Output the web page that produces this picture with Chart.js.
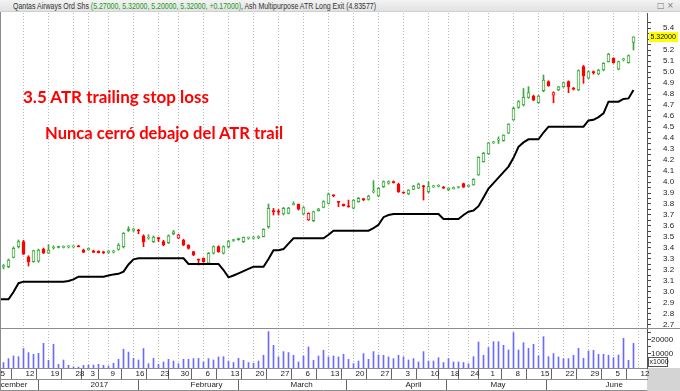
<!DOCTYPE html>
<html>
<head>
<meta charset="utf-8">
<script src="https://cdn.jsdelivr.net/npm/chart.js@4.4.0/dist/chart.umd.min.js"></script>
<style>
body{margin:0;width:680px;height:391px;overflow:hidden;background:#fff;position:relative;font-family:'Liberation Sans',Arial,sans-serif}
#hdr{position:absolute;left:0;top:0;width:680px;height:12px;background:linear-gradient(#f3f3f3,#e2e2e2);border-bottom:1px solid #cfcfcf;box-sizing:border-box;font-size:8.5px;line-height:12px;color:#333;white-space:nowrap}
#hdr .t{position:absolute;left:13px;top:0;transform-origin:0 50%}
#hdr .g{color:#1f9a1f}
#hdr .btn{position:absolute;left:657px;top:0;color:#777;font-family:'DejaVu Sans';font-size:8px}
#corner{position:absolute;left:647px;top:368px;width:33px;height:23px;background:#d4d4d4}
canvas{position:absolute;left:0;top:0}
.note{position:absolute;color:#f00;font-family:Lato,'Open Sans',sans-serif;font-weight:bold;white-space:nowrap;transform-origin:0 0;line-height:18px}
</style>
</head>
<body>
<div id="corner"></div>
<canvas id="chart_one" width="680" height="391"></canvas>
<div id="hdr"><span class="t" id="hdrText"></span><span class="btn">&#9633; &#215;</span></div>
<div class="note" id="note1" style="left:23px;top:88px;font-size:17px">3.5 ATR trailing stop loss</div>
<div class="note" id="note2" style="left:45px;top:124px;font-size:17px">Nunca cerró debajo del ATR trail</div>
<script>

var dates = [
    '2016-12-01','2016-12-02',
    '2016-12-05','2016-12-06','2016-12-07','2016-12-08','2016-12-09',
    '2016-12-12','2016-12-13','2016-12-14','2016-12-15','2016-12-16',
    '2016-12-19','2016-12-20','2016-12-21','2016-12-22','2016-12-23',
    '2016-12-28','2016-12-29','2016-12-30',
    '2017-01-03','2017-01-04','2017-01-05','2017-01-06',
    '2017-01-09','2017-01-10','2017-01-11','2017-01-12','2017-01-13',
    '2017-01-16','2017-01-17','2017-01-18','2017-01-19','2017-01-20',
    '2017-01-23','2017-01-24','2017-01-25','2017-01-27',
    '2017-01-30','2017-01-31','2017-02-01','2017-02-02','2017-02-03',
    '2017-02-06','2017-02-07','2017-02-08','2017-02-09','2017-02-10',
    '2017-02-13','2017-02-14','2017-02-15','2017-02-16','2017-02-17',
    '2017-02-20','2017-02-21','2017-02-22','2017-02-23','2017-02-24',
    '2017-02-27','2017-02-28','2017-03-01','2017-03-02','2017-03-03',
    '2017-03-06','2017-03-07','2017-03-08','2017-03-09','2017-03-10',
    '2017-03-13','2017-03-14','2017-03-15','2017-03-16','2017-03-17',
    '2017-03-20','2017-03-21','2017-03-22','2017-03-23','2017-03-24',
    '2017-03-27','2017-03-28','2017-03-29','2017-03-30','2017-03-31',
    '2017-04-03','2017-04-04','2017-04-05','2017-04-06','2017-04-07',
    '2017-04-10','2017-04-11','2017-04-12','2017-04-13',
    '2017-04-18','2017-04-19','2017-04-20','2017-04-21',
    '2017-04-24','2017-04-26','2017-04-27','2017-04-28',
    '2017-05-01','2017-05-02','2017-05-03','2017-05-04','2017-05-05',
    '2017-05-08','2017-05-09','2017-05-10','2017-05-11','2017-05-12',
    '2017-05-15','2017-05-16','2017-05-17','2017-05-18','2017-05-19',
    '2017-05-22','2017-05-23','2017-05-24','2017-05-25','2017-05-26',
    '2017-05-29','2017-05-30','2017-05-31','2017-06-01','2017-06-02',
    '2017-06-05','2017-06-06','2017-06-07','2017-06-08','2017-06-09',
    '2017-06-12'
];

var open = [3.20, 3.22, 3.21,
    3.23, 3.23, 3.315, 3.412, 3.458, 3.32, 3.276, 3.28, 3.39, 3.352,
    3.40, 3.41, 3.405, 3.41, 3.41, 3.42, 3.382, 3.382, 3.375, 3.37,
    3.365, 3.36, 3.362, 3.388, 3.412, 3.57, 3.56, 3.565, 3.51, 3.49,
    3.458, 3.49, 3.458, 3.448, 3.53, 3.49, 3.473, 3.427, 3.367, 3.30,
    3.306, 3.261, 3.352, 3.412, 3.352, 3.412, 3.468, 3.485, 3.458, 3.49,
    3.49, 3.495, 3.503, 3.594, 3.735, 3.735, 3.71, 3.715, 3.795, 3.797,
    3.709, 3.655, 3.648, 3.74, 3.77, 3.806, 3.88, 3.82, 3.797, 3.78,
    3.761, 3.821, 3.845, 3.842, 3.91, 3.873, 3.958, 3.99, 4.00, 3.982,
    3.905, 3.891, 3.933, 3.943, 3.96, 3.912, 3.955, 3.96, 3.95, 3.93,
    3.94, 3.95, 3.985, 3.96, 3.973, 4.064, 4.185, 4.255, 4.355, 4.38,
    4.376, 4.443, 4.564, 4.679, 4.70, 4.77, 4.782, 4.721, 4.83, 4.912,
    4.79, 4.836, 4.866, 4.912, 4.85, 4.836, 5.05, 4.943, 5.00, 4.982,
    5.018, 5.094, 5.125, 5.025, 5.11, 5.085, 5.27];

var high = [3.24, 3.25, 3.26,
    3.25, 3.30, 3.41, 3.473, 3.47, 3.33, 3.38, 3.39, 3.40, 3.43,
    3.42, 3.415, 3.42, 3.42, 3.42, 3.425, 3.39, 3.40, 3.38, 3.375,
    3.37, 3.38, 3.38, 3.44, 3.54, 3.594, 3.58, 3.57, 3.52, 3.52,
    3.51, 3.495, 3.47, 3.52, 3.56, 3.525, 3.48, 3.43, 3.37, 3.30,
    3.31, 3.36, 3.42, 3.42, 3.42, 3.47, 3.48, 3.49, 3.50, 3.50,
    3.505, 3.51, 3.575, 3.80, 3.76, 3.75, 3.77, 3.77, 3.82, 3.80,
    3.775, 3.72, 3.735, 3.76, 3.83, 3.90, 3.885, 3.825, 3.80, 3.836,
    3.84, 3.86, 3.85, 3.88, 4.012, 3.95, 4.01, 4.01, 4.01, 3.99,
    3.91, 3.93, 3.97, 3.99, 3.97, 4.003, 3.97, 3.975, 3.96, 3.95,
    3.955, 3.96, 3.99, 3.975, 4.03, 4.23, 4.27, 4.36, 4.37, 4.41,
    4.43, 4.53, 4.68, 4.74, 4.85, 4.867, 4.79, 4.79, 4.973, 4.92,
    4.82, 4.87, 4.91, 4.92, 4.86, 5.02, 5.06, 5.01, 5.01, 5.025,
    5.085, 5.17, 5.13, 5.10, 5.125, 5.155, 5.32];

var low = [3.18, 3.19, 3.19,
    3.21, 3.22, 3.31, 3.40, 3.34, 3.236, 3.27, 3.27, 3.35, 3.35,
    3.39, 3.40, 3.40, 3.40, 3.40, 3.41, 3.36, 3.38, 3.36, 3.355,
    3.35, 3.35, 3.355, 3.38, 3.40, 3.55, 3.55, 3.53, 3.412, 3.48,
    3.45, 3.458, 3.42, 3.44, 3.52, 3.485, 3.42, 3.39, 3.33, 3.245,
    3.27, 3.255, 3.345, 3.36, 3.345, 3.40, 3.46, 3.47, 3.45, 3.48,
    3.48, 3.485, 3.50, 3.58, 3.70, 3.70, 3.70, 3.71, 3.79, 3.745,
    3.70, 3.65, 3.64, 3.735, 3.765, 3.80, 3.865, 3.776, 3.78, 3.77,
    3.755, 3.815, 3.83, 3.835, 3.90, 3.865, 3.95, 3.98, 3.99, 3.905,
    3.895, 3.885, 3.93, 3.94, 3.836, 3.90, 3.95, 3.955, 3.94, 3.92,
    3.935, 3.945, 3.95, 3.955, 3.97, 4.06, 4.18, 4.25, 4.35, 4.35,
    4.37, 4.44, 4.56, 4.67, 4.69, 4.76, 4.74, 4.715, 4.82, 4.87,
    4.72, 4.83, 4.86, 4.812, 4.836, 4.83, 4.897, 4.94, 4.98, 4.975,
    5.01, 5.09, 5.08, 5.02, 5.10, 5.08, 5.20];

var close = [3.22, 3.21, 3.23,
    3.24, 3.29, 3.397, 3.458, 3.345, 3.276, 3.376, 3.382, 3.352, 3.382,
    3.405, 3.405, 3.41, 3.412, 3.415, 3.41, 3.36, 3.397, 3.36, 3.358,
    3.356, 3.365, 3.367, 3.427, 3.533, 3.56, 3.565, 3.555, 3.458, 3.497,
    3.50, 3.485, 3.427, 3.51, 3.548, 3.52, 3.427, 3.397, 3.337, 3.29,
    3.276, 3.352, 3.412, 3.367, 3.412, 3.458, 3.473, 3.475, 3.497, 3.498,
    3.50, 3.503, 3.57, 3.761, 3.73, 3.725, 3.761, 3.762, 3.80, 3.752,
    3.767, 3.715, 3.73, 3.755, 3.821, 3.891, 3.875, 3.815, 3.782, 3.775,
    3.836, 3.852, 3.84, 3.873, 3.915, 3.943, 4.003, 4.003, 3.995, 3.912,
    3.90, 3.927, 3.964, 3.982, 3.955, 3.958, 3.96, 3.965, 3.945, 3.945,
    3.947, 3.955, 3.953, 3.97, 4.024, 4.224, 4.26, 4.357, 4.36, 4.382,
    4.427, 4.527, 4.67, 4.73, 4.77, 4.812, 4.745, 4.782, 4.927, 4.873,
    4.812, 4.866, 4.903, 4.866, 4.845, 5.012, 4.964, 5.003, 4.995, 5.018,
    5.079, 5.164, 5.085, 5.094, 5.115, 5.15, 5.32];

// Ash Multipurpose ATR Long Exit
var atr = [2.93, 2.934, 2.934,
    2.934, 2.934, 3.00, 3.08, 3.094, 3.094, 3.094, 3.094, 3.094, 3.094,
    3.094, 3.094, 3.094, 3.10, 3.115, 3.139, 3.139, 3.139, 3.139, 3.139,
    3.139, 3.15, 3.16, 3.165, 3.185, 3.25, 3.297, 3.306, 3.306, 3.306,
    3.306, 3.306, 3.306, 3.306, 3.306, 3.306, 3.306, 3.255, 3.255, 3.255,
    3.255, 3.255, 3.255, 3.255, 3.20, 3.133, 3.15, 3.17, 3.19, 3.21,
    3.23, 3.23, 3.23, 3.30, 3.38, 3.38, 3.39, 3.44, 3.488, 3.488,
    3.488, 3.488, 3.488, 3.488, 3.488, 3.52, 3.557, 3.557, 3.557, 3.557,
    3.557, 3.557, 3.557, 3.557, 3.58, 3.61, 3.68, 3.70, 3.709, 3.709,
    3.709, 3.709, 3.709, 3.709, 3.709, 3.709, 3.709, 3.709, 3.664, 3.664,
    3.664, 3.664, 3.70, 3.73, 3.74, 3.78, 3.86, 3.94, 3.99, 4.04,
    4.09, 4.14, 4.22, 4.32, 4.36, 4.388, 4.388, 4.388, 4.45, 4.503,
    4.503, 4.503, 4.503, 4.503, 4.503, 4.503, 4.503, 4.56, 4.565, 4.59,
    4.624, 4.73, 4.73, 4.73, 4.755, 4.76, 4.83577];

// volume, x1000
var volume = [4500, 5200, 4800,
    3900, 6700, 8600, 8100, 13900, 11000, 9800, 10500, 17600, 5500,
    16900, 2600, 5700, 1900, 900, 700, 1900, 2100, 2100, 2600,
    1900, 1400, 3400, 6200, 13400, 11400, 6900, 5700, 13900, 3100,
    6900, 2600, 4300, 6200, 5000, 3100, 6200, 6200, 6700, 6900,
    4300, 6700, 5700, 7900, 8100, 5000, 3900, 6900, 5500, 3900,
    3400, 5000, 9100, 26000, 16200, 7900, 11700, 11000, 9100, 4300,
    8600, 15000, 5500, 8600, 12600, 7900, 8600, 7900, 9800, 6200,
    3100, 5000, 10300, 6200, 11700, 9300, 9100, 7900, 6700, 9100,
    7900, 5700, 6700, 4300, 11700, 5000, 5000, 7400, 3900, 6700,
    4300, 4300, 3900, 3100, 8100, 18600, 9100, 14600, 18800, 18800,
    16200, 12900, 25300, 12900, 18100, 14100, 16900, 8600, 22400, 8100,
    10300, 7900, 6700, 6700, 9100, 14100, 6900, 12200, 12600, 9800,
    9800, 9100, 7400, 9300, 21200, 5500, 17600];

var priceLabels = ['2.7','2.8','2.9','3.0','3.1','3.2','3.3','3.4','3.5','3.6','3.7','3.8','3.9','4.0',
    '4.1','4.2','4.3','4.4','4.5','4.6','4.7','4.8','4.9','5.0','5.1','5.2','5.3','5.4'];
var volLabels = ['10000','20000'];
var monthNames = ['January','February','March','April','May','June','July','August','September','October','November','December'];

var green = '#3aa83a';
var red = '#ff0000';

// week / month starts from the trading days
function parseDay(s){ return new Date(s + 'T00:00:00Z'); }
var weekStarts = [];
var monthStarts = [];
dates.forEach(function(d, i){
    if (i == 0) { weekStarts.push(i); monthStarts.push(i); return; }
    var t = parseDay(d), p = parseDay(dates[i-1]);
    if (t.getUTCDay() <= p.getUTCDay() || (t - p) > 4*864e5) weekStarts.push(i);
    if (t.getUTCMonth() != p.getUTCMonth()) monthStarts.push(i);
});

function dayLabel(v){
    var i = Math.round(v);
    return dates[i] ? String(parseDay(dates[i]).getUTCDate()) : '';
}
function monthLabel(v){
    var d = parseDay(dates[Math.round(v)]);
    return d.getUTCMonth() == 0 ? String(d.getUTCFullYear()) : monthNames[d.getUTCMonth()];
}

var candleColor = close.map(function(c, i){ return (i == 0 || c >= close[i-1]) ? green : red; });
var bodyFill = close.map(function(c, i){ return c >= open[i] ? '#ffffff' : candleColor[i]; });

var bodies = open.map(function(o, i){ return {x: i, y: [Math.min(o, close[i]), Math.max(o, close[i])]}; });
var wicks = open.map(function(o, i){ return {x: i, y: [low[i], high[i]]}; });
var vols = volume.map(function(v, i){ return {x: i, y: v}; });
var atrPts = atr.map(function(v, i){ return {x: i, y: v}; });

var priceTicks = [];
priceLabels.forEach(function(s){ priceTicks.push(+s); priceTicks.push(+(+s + 0.05).toFixed(2)); });
var volTicks = [5000, 10000, 15000, 20000, 25000];

// header
var n = close.length - 1;
var chg = close[n] - close[n-1];
document.getElementById('hdrText').innerHTML = 'Qantas Airways Ord Shs <span class="g">(' +
    [open[n], high[n], low[n], close[n]].map(function(v){ return v.toFixed(5); }).join(', ') +
    ', ' + (chg >= 0 ? '+' : '') + chg.toFixed(5) + ')</span>, Ash Multipurpose ATR Long Exit (' +
    atr[n].toFixed(5) + ')';

var xMin = 2.3, xMax = 2.3 + 647/5;

// dotted week lines, panel separators, price tag
var frame = {
    id: 'frame',
    beforeDatasetsDraw: function(c){
        var ctx = c.ctx, a = c.chartArea, sx = c.scales.x;
        ctx.save();
        ctx.strokeStyle = '#b8b8b8';
        ctx.lineWidth = 1;
        ctx.setLineDash([1, 2]);
        ctx.beginPath();
        weekStarts.forEach(function(v){
            var px = Math.round(sx.getPixelForValue(v) - 0.5) + 0.5;
            if (px < a.left || px > a.right) return;
            ctx.moveTo(px, a.top); ctx.lineTo(px, a.bottom);
        });
        ctx.stroke();
        ctx.restore();
    },
    afterDraw: function(c){
        var ctx = c.ctx, s = c.scales;
        ctx.save();
        ctx.strokeStyle = '#8c8c8c';
        ctx.lineWidth = 1;
        var ys = Math.round(s.yv.top) + 0.5;
        ctx.beginPath();
        ctx.moveTo(0, ys); ctx.lineTo(c.width, ys);
        ctx.moveTo(0, 390.5); ctx.lineTo(s.y.left, 390.5);
        ctx.moveTo(0.5, 12); ctx.lineTo(0.5, 391);
        ctx.stroke();
        // last close tag
        var last = close[n];
        var py = s.y.getPixelForValue(last);
        ctx.fillStyle = '#ffff00';
        ctx.fillRect(s.y.left + 2, Math.round(py) - 5, 29, 10);
        ctx.fillStyle = '#000';
        ctx.font = '7px "Liberation Sans"';
        ctx.textBaseline = 'middle';
        ctx.fillText(last.toFixed(5), s.y.left + 3.5, py + 0.5);
        // volume unit
        var vy = s.yv.bottom - 6;
        ctx.fillStyle = '#fff';
        ctx.fillRect(s.yv.left + 1.5, vy - 4.5, 19, 9);
        ctx.strokeStyle = '#555';
        ctx.strokeRect(s.yv.left + 1.5, vy - 4.5, 19, 9);
        ctx.fillStyle = '#222';
        ctx.fillText('x1000', s.yv.left + 2.5, vy + 0.5);
        ctx.restore();
    }
};

Chart.defaults.font.family = '"Liberation Sans", Arial, sans-serif';
Chart.defaults.font.size = 8;
Chart.defaults.color = '#222';

var ctx = document.getElementById('chart_one').getContext('2d');
var chart = new Chart(ctx, {
    type: 'bar',
    data: {
        datasets: [{
            type: 'line',
            label: 'ATR Long Exit',
            data: atrPts,
            borderColor: '#000000',
            borderWidth: 2,
            pointRadius: 0,
            tension: 0,
            yAxisID: 'y',
            order: 0
        }, {
            label: 'body',
            data: bodies,
            backgroundColor: bodyFill,
            borderColor: candleColor,
            borderWidth: 1,
            borderSkipped: false,
            barThickness: 3,
            minBarLength: 1,
            grouped: false,
            yAxisID: 'y',
            order: 1
        }, {
            label: 'wick',
            data: wicks,
            backgroundColor: candleColor,
            borderWidth: 0,
            barThickness: 1,
            grouped: false,
            yAxisID: 'y',
            order: 2
        }, {
            label: 'volume',
            data: vols,
            backgroundColor: '#6a6aff',
            borderWidth: 0,
            barThickness: 1,
            grouped: false,
            yAxisID: 'yv',
            order: 3
        }]
    },
    options: {
        responsive: false,
        animation: false,
        devicePixelRatio: 1,
        events: [],
        layout: { padding: { top: 13, left: 0, right: 0, bottom: 0 } },
        plugins: { legend: { display: false }, tooltip: { enabled: false } },
        scales: {
            x: {
                type: 'linear', min: xMin, max: xMax, offset: false, weight: 0,
                afterBuildTicks: function(a){ a.ticks = weekStarts.map(function(v){ return {value: v}; }); },
                afterFit: function(a){ a.height = 11; a.paddingLeft = 0; a.paddingRight = 0; },
                ticks: { autoSkip: false, maxRotation: 0, align: 'start', labelOffset: 2, padding: -10,
                         callback: function(v){ return dayLabel(v); } },
                grid: { drawOnChartArea: false, tickLength: 11, tickColor: '#666' },
                border: { display: true, color: '#8c8c8c' }
            },
            xm: {
                type: 'linear', position: 'bottom', min: xMin, max: xMax, offset: false, weight: 1,
                afterBuildTicks: function(a){ a.ticks = monthStarts.map(function(v){ return {value: v}; }); },
                afterFit: function(a){ a.height = 12; a.paddingLeft = 0; a.paddingRight = 0; },
                ticks: { autoSkip: false, maxRotation: 0, align: 'start', labelOffset: 2, padding: -11,
                         callback: function(v){ return monthLabel(v); } },
                grid: { drawOnChartArea: false, tickLength: 12, tickColor: '#666' },
                border: { display: true, color: '#8c8c8c' }
            },
            y: {
                type: 'linear', position: 'right', stack: 'r', stackWeight: 315,
                min: 2.6727, max: 5.5364,
                afterBuildTicks: function(a){ a.ticks = priceTicks.map(function(v){ return {value: v}; }); },
                afterFit: function(a){ a.width = 33; a.paddingTop = 0; a.paddingBottom = 0; },
                ticks: { autoSkip: false, padding: 12,
                         callback: function(v){
                             var s = v.toFixed(1);
                             return (Math.abs(v - (+s)) < 1e-6 && priceLabels.indexOf(s) >= 0) ? s : '';
                         } },
                grid: { drawOnChartArea: false, tickLength: 4, tickColor: '#444' },
                border: { display: true, color: '#555' }
            },
            yv: {
                type: 'linear', position: 'right', stack: 'r', stackWeight: 40,
                min: 0, max: 28570,
                afterBuildTicks: function(a){ a.ticks = volTicks.map(function(v){ return {value: v}; }); },
                afterFit: function(a){ a.width = 33; a.paddingTop = 0; a.paddingBottom = 0; },
                ticks: { autoSkip: false, padding: 0,
                         callback: function(v){ return volLabels.indexOf(String(v)) >= 0 ? String(v) : ''; } },
                grid: { drawOnChartArea: false, tickLength: 4, tickColor: '#444' },
                border: { display: true, color: '#555' }
            }
        }
    },
    plugins: [frame]
});

function fitWidth(id, w){
    var el = document.getElementById(id);
    el.style.transform = 'none';
    var r = w / el.getBoundingClientRect().width;
    el.style.transform = 'scaleX(' + r + ')';
}
function fitAll(){
    fitWidth('hdrText', 363);
    fitWidth('note1', 186);
    fitWidth('note2', 238);
}
fitAll();
if (document.fonts) document.fonts.ready.then(fitAll);

</script>
</body>
</html>
